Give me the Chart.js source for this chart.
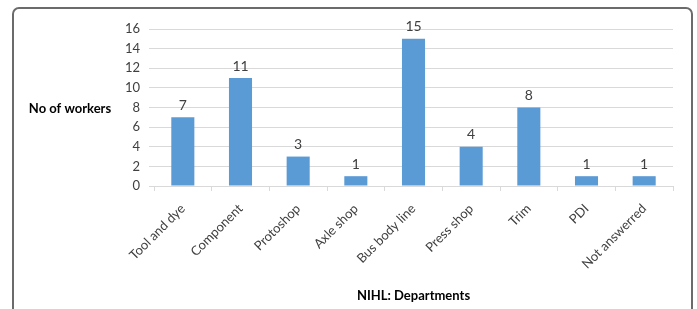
<!DOCTYPE html>
<html lang="en">
<head>
    <meta charset="UTF-8">
    <title>NIHL: Departments</title>
    <style>
        body {
            margin: 0;
            background: #fff;
            font-family: Lato, Arial, sans-serif;
        }
        #frame {
            position: absolute;
            left: 12px;
            top: 7px;
            width: 677px;
            height: 320px;
            border: 2px solid #6b6b6b;
            border-radius: 7px;
        }
        #wrap {
            position: absolute;
            left: 0;
            top: 0;
            width: 697px;
            height: 309px;
        }
    </style>
</head>
<body>
    <div id="frame"></div>
    <div id="wrap"><canvas id="chart"></canvas></div>
    <script src="https://cdn.jsdelivr.net/npm/chart.js"></script>
    <script>
        // Departments and number of workers reported
        const departments = ['Tool and dye', 'Component', 'Protoshop', 'Axle shop', 'Bus body line', 'Press shop', 'Trim', 'PDI', 'Not answerred'];
        const workers = [7, 11, 3, 1, 15, 4, 8, 1, 1];
        const yTicks = [0, 2, 4, 6, 8, 10, 12, 14, 16];

        const textColor = '#404040';
        const gridColor = '#d9d9d9';

        // value labels above bars + the two axis titles (y title is horizontal)
        const labelsPlugin = {
            id: 'labels',
            afterDatasetsDraw(chart) {
                const ctx = chart.ctx;
                const meta = chart.getDatasetMeta(0);
                ctx.save();
                ctx.fillStyle = textColor;
                ctx.font = '14px Lato, Arial, sans-serif';
                ctx.textAlign = 'center';
                ctx.textBaseline = 'bottom';
                meta.data.forEach((bar, i) => {
                    ctx.fillText(workers[i], bar.x, bar.y - 5);
                });

                const area = chart.chartArea;
                ctx.fillStyle = '#000';
                ctx.font = 'bold 13px Lato, Arial, sans-serif';
                ctx.textBaseline = 'middle';
                ctx.fillText('No of workers', 70, 109);
                ctx.fillText('NIHL: Departments', (area.left + area.right) / 2, 296);
                ctx.restore();
            }
        };

        const ctx = document.getElementById('chart').getContext('2d');
        const myChart = new Chart(ctx, {
            type: 'bar',
            data: {
                labels: departments,
                datasets: [{
                    data: workers,
                    backgroundColor: '#5b9bd5',
                    categoryPercentage: 1,
                    barPercentage: 0.4
                }]
            },
            options: {
                responsive: true,
                maintainAspectRatio: false,
                animation: false,
                layout: { padding: { top: 29, right: 24, bottom: 0, left: 0 } },
                plugins: {
                    legend: { display: false },
                    tooltip: { enabled: false }
                },
                scales: {
                    x: {
                        grid: {
                            display: true,
                            drawOnChartArea: false,
                            drawTicks: true,
                            tickLength: 5,
                            color: gridColor
                        },
                        border: { display: true, color: gridColor },
                        ticks: {
                            color: textColor,
                            font: { family: 'Lato, Arial, sans-serif', size: 13 },
                            minRotation: 45,
                            maxRotation: 45,
                            autoSkip: false,
                            padding: 10
                        },
                        afterFit(scale) { scale.height = 123; }
                    },
                    y: {
                        min: 0,
                        max: 16,
                        afterBuildTicks(scale) {
                            scale.ticks = yTicks.map(v => ({ value: v }));
                        },
                        grid: {
                            color: gridColor,
                            tickLength: 5
                        },
                        border: { display: false },
                        ticks: {
                            color: textColor,
                            font: { family: 'Lato, Arial, sans-serif', size: 13 },
                            padding: 9
                        },
                        afterFit(scale) { scale.width = 154; }
                    }
                }
            },
            plugins: [labelsPlugin]
        });
    </script>
</body>
</html>
